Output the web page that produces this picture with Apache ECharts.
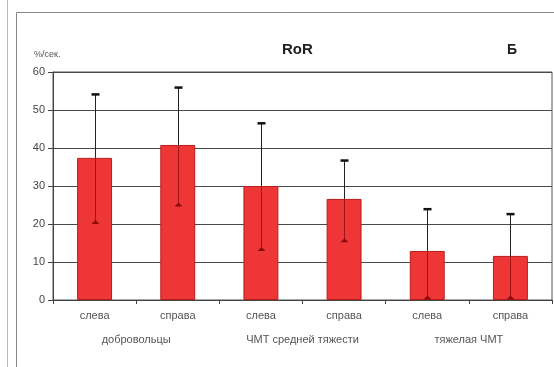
<!DOCTYPE html>
<html>
<head>
<meta charset="utf-8">
<script src="https://cdn.jsdelivr.net/npm/echarts@6/dist/echarts.min.js"></script>
<style>
html,body{margin:0;padding:0;background:#fff;}
#c{width:554px;height:367px;}
</style>
</head>
<body>
<div id="c"></div>
<script>
const categories = ['слева','справа','слева','справа','слева','справа'];
const groups = ['добровольцы','ЧМТ средней тяжести','тяжелая ЧМТ'];
const means = [37.4, 40.8, 30.0, 26.6, 12.9, 11.6];
const upper = [54.1, 55.9, 46.5, 36.7, 23.9, 22.6];
const lower = [20.4, 25.0, 13.3, 15.6, 0.5, 0.5];
const yTicks = [0, 10, 20, 30, 40, 50, 60];

const chart = echarts.init(document.getElementById('c'), null, {renderer:'canvas'});
const font = 'Liberation Sans, Arial, sans-serif';

const errData = means.map((m,i)=>[i, m, upper[i], lower[i]]);

chart.setOption({
  animation:false,
  backgroundColor:'#fff',
  title:[
    {text:'RoR', left:277, top:37, textStyle:{fontFamily:font, fontSize:15, fontWeight:'bold', color:'#222'}},
    {text:'Б', left:502, top:38, textStyle:{fontFamily:font, fontSize:14, fontWeight:'bold', color:'#222'}},
    {text:'%/сек.', left:29, top:45, textStyle:{fontFamily:font, fontSize:9, fontWeight:'normal', color:'#555'}}
  ],
  graphic:[
    {type:'line', shape:{x1:7.5,y1:0,x2:7.5,y2:367}, style:{stroke:'#bbb', lineWidth:1}},
    {type:'polyline', shape:{points:[[16.5,367],[16.5,12.5],[554,12.5]]}, style:{stroke:'#888', lineWidth:1, fill:null}}
  ],
  grid:{left:53, right:2, top:72, bottom:67, show:true, borderColor:'#555', borderWidth:1},
  xAxis:[
    {type:'category', data:categories, position:'bottom',
     axisLine:{lineStyle:{color:'#444', width:1}},
     axisTick:{show:true, alignWithLabel:false, length:4, inside:false, lineStyle:{color:'#444'}},
     axisLabel:{fontFamily:font, fontSize:11, color:'#555', margin:10}},
    {type:'category', data:groups, position:'bottom', offset:26,
     axisLine:{show:false}, axisTick:{show:false},
     axisLabel:{fontFamily:font, fontSize:11, color:'#555', margin:8}}
  ],
  yAxis:{type:'value', min:yTicks[0], max:yTicks[yTicks.length-1], interval:10,
    axisLine:{show:true, lineStyle:{color:'#444'}},
    axisTick:{show:true, length:5, lineStyle:{color:'#444'}},
    axisLabel:{fontFamily:font, fontSize:11, color:'#444', margin:8},
    splitLine:{show:true, lineStyle:{color:'#4a4a4a', width:1}}
  },
  series:[
    {type:'bar', xAxisIndex:0, data:means, barWidth:'42%',
     itemStyle:{color:'#ee3636', borderColor:'#b81c1c', borderWidth:1}},
    {type:'custom', xAxisIndex:0, data:errData, z:10,
     renderItem:function(params, api){
       const x = api.value(0);
       const pm = api.coord([x, api.value(1)]);
       const pu = api.coord([x, api.value(2)]);
       const pl = api.coord([x, api.value(3)]);
       const cx = Math.round(pm[0]) + 0.5;
       return {type:'group', children:[
         {type:'line', shape:{x1:cx,y1:pm[1],x2:cx,y2:pu[1]}, style:{stroke:'#222', lineWidth:1}},
         {type:'line', shape:{x1:cx-4,y1:pu[1],x2:cx+4,y2:pu[1]}, style:{stroke:'#111', lineWidth:2.5}},
         {type:'line', shape:{x1:cx,y1:pm[1],x2:cx,y2:pl[1]}, style:{stroke:'#a01414', lineWidth:1}},
         {type:'polygon', shape:{points:[[cx-4,pl[1]+1.5],[cx+4,pl[1]+1.5],[cx,pl[1]-2.5]]}, style:{fill:'#8a0c0c'}}
       ]};
     }}
  ]
});
</script>
</body>
</html>
